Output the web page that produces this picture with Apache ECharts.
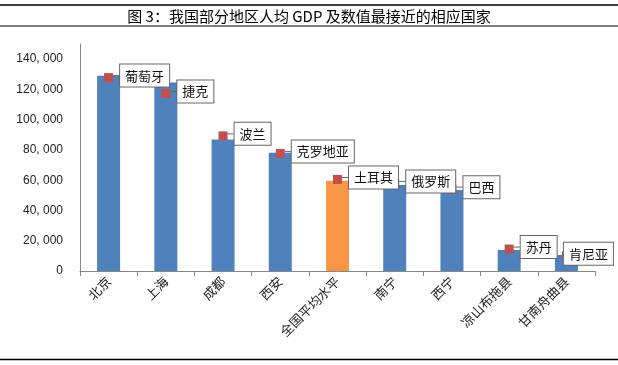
<!DOCTYPE html>
<html>
<head>
<meta charset="utf-8">
<script src="https://cdn.jsdelivr.net/npm/echarts@6/dist/echarts.min.js"></script>
<style>
html,body{margin:0;padding:0;background:#fff;}
#main{width:618px;height:365px;}
</style>
</head>
<body>
<div id="main"></div>
<script>
var titleText = '图 3：我国部分地区人均 GDP 及数值最接近的相应国家';
var categories = ['北京', '上海', '成都', '西安', '全国平均水平', '南宁', '西宁', '凉山布拖县', '甘南舟曲县'];
var regionGDP = [128994, 124600, 86900, 78100, 59660, 56800, 53500, 13900, 10600];
var countries = ['葡萄牙', '捷克', '波兰', '克罗地亚', '土耳其', '俄罗斯', '巴西', '苏丹', '肯尼亚'];
var countryGDP = [127800, 117300, 89300, 77700, 60500, 57900, 54100, 14500, 10000];
var yTicks = [0, 20000, 40000, 60000, 80000, 100000, 120000, 140000];
var highlightIndex = 4;

var FONT_CN = '"Noto Sans CJK SC", "Liberation Sans", sans-serif';
var FONT_NUM = '"Liberation Sans", Arial, sans-serif';

var chart = echarts.init(document.getElementById('main'), null, {renderer: 'canvas'});

var barData = regionGDP.map(function (v, i) {
  return {value: v, itemStyle: {color: i === highlightIndex ? '#F79646' : '#4F81BD'}};
});

var pointData = countryGDP.map(function (v, i) {
  var d = {value: [i, v], name: countries[i]};
  if (i === countries.length - 1) {
    d.label = {distance: -9};
    d.labelLine = {show: false};
    d.labelLayout = {dx: 0, dy: 0};
  }
  return d;
});

function fmt(v) {
  if (yTicks.indexOf(v) < 0) return '';
  return v.toString().replace(/\B(?=(\d{3})+(?!\d))/g, ', ');
}

chart.setOption({
  animation: false,
  backgroundColor: '#fff',
  graphic: [
    {type: 'line', shape: {x1: 0, y1: 5, x2: 618, y2: 5}, style: {stroke: '#000', lineWidth: 1.5}},
    {type: 'line', shape: {x1: 0, y1: 26, x2: 618, y2: 26}, style: {stroke: '#000', lineWidth: 1}},
    {type: 'line', shape: {x1: 0, y1: 359.5, x2: 618, y2: 359.5}, style: {stroke: '#000', lineWidth: 1.5}},
    {type: 'text', x: 309, y: 16, style: {text: titleText, font: '15px ' + FONT_CN, fill: '#000', align: 'center', verticalAlign: 'middle'}}
  ],
  grid: {left: 80, right: 23, top: 44, bottom: 94, containLabel: false},
  xAxis: {
    type: 'category',
    data: categories,
    boundaryGap: true,
    axisLine: {lineStyle: {color: '#868686', width: 1}},
    axisTick: {show: true, length: 5, alignWithLabel: false, lineStyle: {color: '#868686'}},
    axisLabel: {rotate: 45, fontSize: 13, color: '#222', fontFamily: FONT_CN, margin: 8, interval: 0}
  },
  yAxis: {
    type: 'value',
    min: 0,
    max: 150000,
    interval: 20000,
    splitLine: {show: false},
    axisLine: {show: true, lineStyle: {color: '#868686', width: 1}},
    axisTick: {show: false},
    axisLabel: {fontSize: 12, color: '#222', fontFamily: FONT_NUM, margin: 17, formatter: fmt}
  },
  series: [
    {
      type: 'bar',
      data: barData,
      barWidth: 23,
      z: 2
    },
    {
      type: 'scatter',
      data: pointData,
      symbol: 'rect',
      symbolSize: 9,
      itemStyle: {color: '#C0504D', opacity: 1},
      z: 3,
      label: {
        show: true,
        position: 'right',
        distance: 5,
        formatter: function (p) { return p.name; },
        fontSize: 13,
        fontFamily: FONT_CN,
        color: '#111',
        backgroundColor: '#fff',
        borderColor: '#666',
        borderWidth: 1,
        padding: [4, 5, 4, 5],
        lineHeight: 14
      },
      labelLayout: {dx: 2, dy: -2},
      labelLine: {show: true, lineStyle: {color: '#666', width: 1}}
    }
  ]
});
</script>
</body>
</html>
